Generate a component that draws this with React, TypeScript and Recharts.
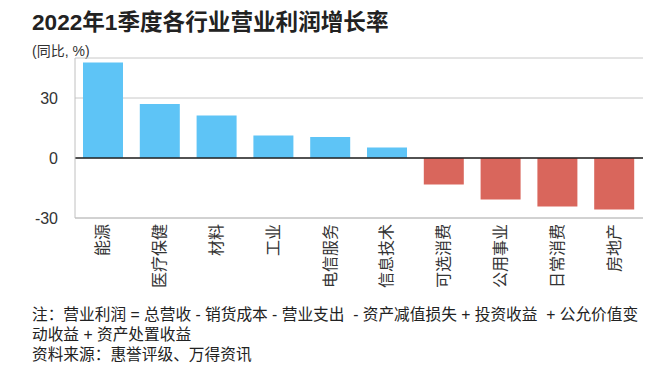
import React from "react";
import { BarChart, Bar, XAxis, YAxis, CartesianGrid, ReferenceLine, Cell } from "recharts";

const categories = ["能源", "医疗保健", "材料", "工业", "电信服务", "信息技术", "可选消费", "公用事业", "日常消费", "房地产"];
const growth = [47.8, 27, 21.3, 11.3, 10.5, 5.3, -13.3, -20.7, -24.3, -25.7];
const yTicks = [-30, 0, 30];

const title = "2022年1季度各行业营业利润增长率";
const unitLabel = "(同比, %)";
const noteLines = [
  "注：营业利润 = 总营收 - 销货成本 - 营业支出  - 资产减值损失 + 投资收益  + 公允价值变",
  "动收益 + 资产处置收益",
  "资料来源：惠誉评级、万得资讯",
];

const data = categories.map((name, i) => ({ name, value: growth[i] }));

const SANS = "'Liberation Sans', Arial, 'Noto Sans CJK SC', sans-serif";

const XTick = (props: any) => {
  const { x, y, payload } = props;
  return (
    <text
      x={0}
      y={0}
      transform={`translate(${x - 2},${y + 4}) rotate(-90)`}
      textAnchor="end"
      dominantBaseline="central"
      fontSize={16}
      fill="#333"
      fontFamily="'Noto Sans CJK SC', sans-serif"
    >
      {payload.value}
    </text>
  );
};

export default function App() {
  return (
    <div style={{ position: "fixed", left: 0, top: 0, width: 656, height: 385, background: "#fff", overflow: "hidden" }}>
      <div style={{ position: "absolute", left: 32, top: 8, fontFamily: SANS, fontWeight: 700, fontSize: 22.6, color: "#222", whiteSpace: "nowrap", lineHeight: "30px" }}>
        {title}
      </div>
      <div style={{ position: "absolute", left: 32, top: 41, fontFamily: SANS, fontSize: 14, color: "#333", whiteSpace: "nowrap", lineHeight: "20px" }}>
        {unitLabel}
      </div>
      <div style={{ position: "absolute", left: 0, top: 0 }}>
        <BarChart width={656} height={385} data={data} margin={{ top: 58, right: 13, left: 0, bottom: 107 }}>
          <CartesianGrid horizontal vertical={false} stroke="#c8c8c8" />
          <YAxis
            width={75}
            domain={[-30, 50]}
            ticks={yTicks}
            tickLine={false}
            tickSize={0}
            tickMargin={17}
            axisLine={{ stroke: "#c0c0c0" }}
            tick={{ fontSize: 16, fill: "#333", fontFamily: SANS }}
            allowDataOverflow
          />
          <XAxis
            dataKey="name"
            height={60}
            tickLine={false}
            tickSize={0}
            axisLine={{ stroke: "#c0c0c0" }}
            interval={0}
            tick={<XTick />}
          />
          <Bar dataKey="value" barSize={40} isAnimationActive={false}>
            {data.map((d, i) => (
              <Cell key={i} fill={d.value >= 0 ? "#5EC4F6" : "#D9665C"} />
            ))}
          </Bar>
          <ReferenceLine y={0} stroke="#222" strokeWidth={1.5} />
        </BarChart>
      </div>
      {noteLines.map((l, i) => (
        <div
          key={i}
          style={{ position: "absolute", left: 32, top: 305 + i * 20, height: 20, fontFamily: SANS, fontSize: 15.7, color: "#222", whiteSpace: "pre", lineHeight: "20px" }}
        >
          {l}
        </div>
      ))}
    </div>
  );
}
